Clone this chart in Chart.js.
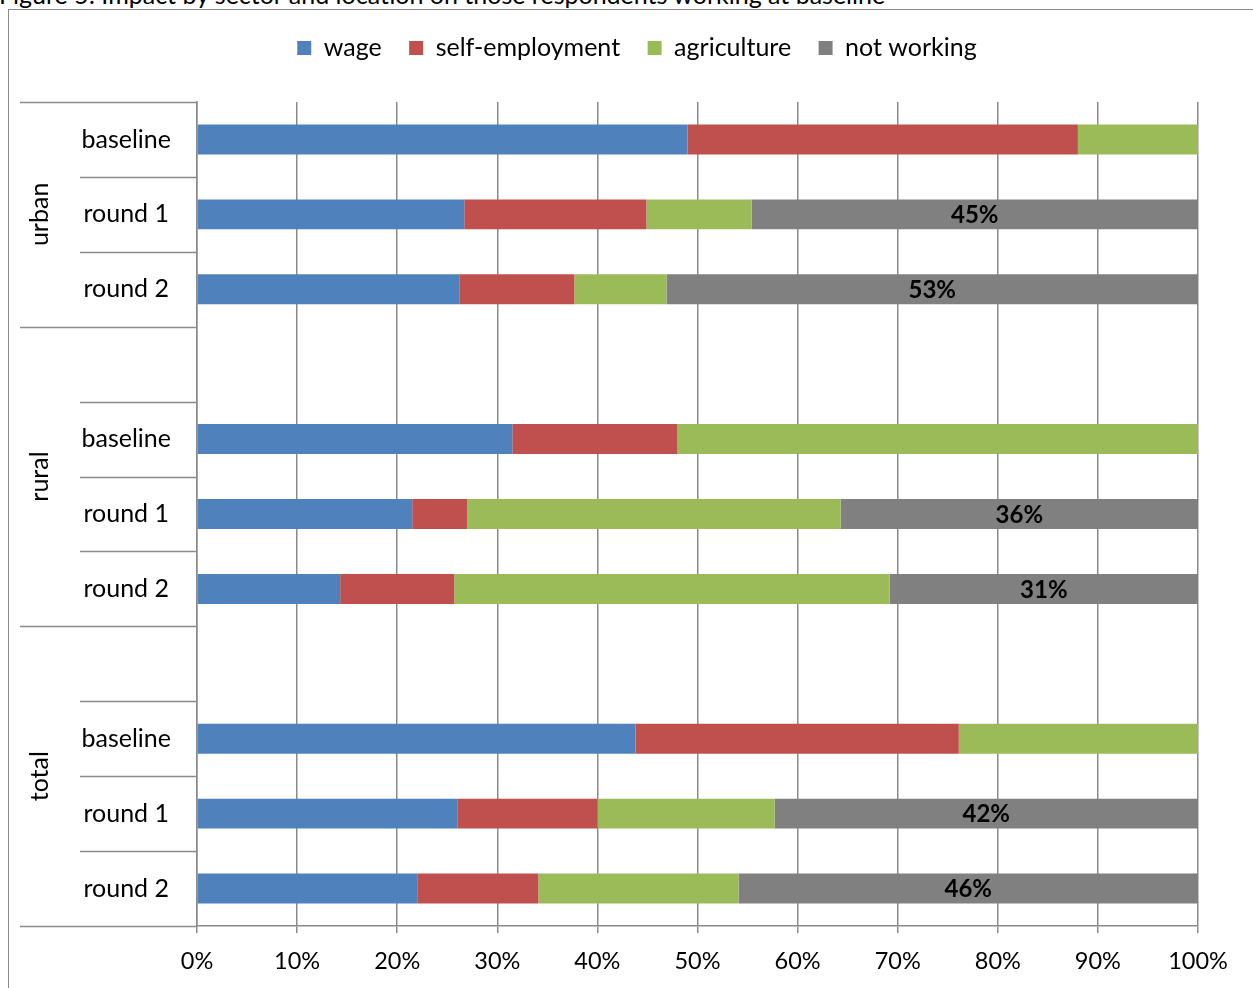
<!DOCTYPE html>
<html>
<head>
<meta charset="utf-8">
<script src="https://cdn.jsdelivr.net/npm/chart.js@4.4.0/dist/chart.umd.min.js"></script>
<style>
  body { margin: 0; background: #fff; overflow: hidden; }
  #caption { position: absolute; left: -1px; top: -18px; font-family: Lato, sans-serif; font-size: 25px; line-height: 25px; color: #000; white-space: nowrap; }
  #frame { position: absolute; left: 8px; top: 9px; width: 1300px; height: 1100px; border: 1px solid #8a8a8a; }
  #wrap { position: absolute; left: 0; top: 0; width: 1253px; height: 988px; }
</style>
</head>
<body>
<div id="caption">Figure 5: Impact by sector and location on those respondents working at baseline</div>
<div id="frame"></div>
<div id="wrap"><canvas id="sectorChart" width="1253" height="988"></canvas></div>
<script>
// rows: urban (3), rural (gap + 3), total (gap + 3)
const rowLabels = ['baseline', 'round 1', 'round 2', '', 'baseline', 'round 1', 'round 2', '', 'baseline', 'round 1', 'round 2'];
const groupNames = ['urban', 'rural', 'total'];
const groupSizes = [3, 4, 4];

// shares in percent
const wage = [49.0, 26.7, 26.2, null, 31.5, 21.5, 14.3, null, 43.8, 26.0, 22.0];
const selfEmployment = [39.0, 18.2, 11.5, null, 16.5, 5.5, 11.4, null, 32.3, 14.0, 12.1];
const agriculture = [12.0, 10.5, 9.2, null, 52.0, 37.3, 43.5, null, 23.9, 17.7, 20.0];
const notWorking = [0, 44.6, 53.1, null, 0, 35.7, 30.8, null, 0, 42.3, 45.9];

const xTicks = [0, 10, 20, 30, 40, 50, 60, 70, 80, 90, 100];

const FONT = 'Lato, "Noto Sans", sans-serif';
const GRID = '#8a8a8a';

// legend sits higher than Chart.js puts it, so push the plot down a bit
const legendSpace = {
  id: 'legendSpace',
  beforeInit(chart) {
    const origFit = chart.legend.fit;
    chart.legend.fit = function() {
      origFit.bind(chart.legend)();
      this.height += 31.5;
    };
  },
  afterLayout(chart) {
    chart.legend.left += 38;
    chart.legend.right += 38;
  }
};

// group labels and the divider lines in the category area
const groupAxis = {
  id: 'groupAxis',
  afterDraw(chart) {
    const ctx = chart.ctx;
    const y = chart.scales.y;
    const right = chart.chartArea.left;
    const step = y.getPixelForValue(1) - y.getPixelForValue(0);
    const edge = i => y.getPixelForValue(0) - step / 2 + i * step;

    let groupEdges = [0];
    groupSizes.forEach(s => groupEdges.push(groupEdges[groupEdges.length - 1] + s));

    ctx.save();
    ctx.strokeStyle = GRID;
    ctx.lineWidth = 1.5;
    for (let i = 0; i <= rowLabels.length; i++) {
      const yy = Math.round(edge(i)) + 0.5;
      const startX = groupEdges.includes(i) ? 20 : 80;
      ctx.beginPath();
      ctx.moveTo(startX, yy);
      ctx.lineTo(right, yy);
      ctx.stroke();
    }

    ctx.fillStyle = '#000';
    ctx.font = '25px ' + FONT;
    ctx.textAlign = 'center';
    ctx.textBaseline = 'middle';
    groupNames.forEach((name, g) => {
      const mid = (edge(groupEdges[g]) + edge(groupEdges[g + 1])) / 2;
      ctx.save();
      ctx.translate(40, mid);
      ctx.rotate(-Math.PI / 2);
      ctx.fillText(name, 0, 0);
      ctx.restore();
    });
    ctx.restore();
  }
};

// percent labels on the "not working" segments
const notWorkingLabels = {
  id: 'notWorkingLabels',
  afterDatasetsDraw(chart) {
    const ctx = chart.ctx;
    const meta = chart.getDatasetMeta(3);
    ctx.save();
    ctx.fillStyle = '#000';
    ctx.font = 'bold 24px ' + FONT;
    ctx.textAlign = 'center';
    ctx.textBaseline = 'middle';
    meta.data.forEach((bar, i) => {
      const v = notWorking[i];
      if (!v) return;
      ctx.fillText(Math.round(v) + '%', (bar.x + bar.base) / 2, bar.y + 1);
    });
    ctx.restore();
  }
};

function createSectorChart() {
  const ctx = document.getElementById('sectorChart').getContext('2d');

  new Chart(ctx, {
    type: 'bar',
    data: {
      labels: rowLabels,
      datasets: [
        { label: 'wage', data: wage, backgroundColor: '#4F81BD' },
        { label: 'self-employment', data: selfEmployment, backgroundColor: '#C0504D' },
        { label: 'agriculture', data: agriculture, backgroundColor: '#9BBB59' },
        { label: 'not working', data: notWorking, backgroundColor: '#808080' }
      ]
    },
    options: {
      indexAxis: 'y',
      responsive: false,
      animation: false,
      barPercentage: 0.4,
      categoryPercentage: 1.0,
      layout: { padding: { top: 8, right: 55, bottom: 0, left: 0 } },
      plugins: {
        tooltip: { enabled: false },
        legend: {
          position: 'top',
          labels: {
            boxWidth: 14,
            boxHeight: 14,
            padding: 27.5,
            color: '#000',
            font: { family: FONT, size: 25 }
          }
        }
      },
      scales: {
        x: {
          stacked: true,
          min: 0,
          max: 100,
          afterBuildTicks(scale) {
            scale.ticks = xTicks.map(v => ({ value: v }));
          },
          afterFit(scale) { scale.height = 62; },
          ticks: {
            padding: 14,
            color: '#000',
            font: { family: FONT, size: 23.5 },
            callback: v => v + '%'
          },
          grid: { color: GRID, lineWidth: 1.5, tickLength: 7 },
          border: { color: GRID, width: 1.5 }
        },
        y: {
          stacked: true,
          afterFit(scale) { scale.width = 197; },
          ticks: {
            crossAlign: 'center',
            padding: 26,
            color: '#000',
            font: { family: FONT, size: 25 }
          },
          grid: { display: false, drawTicks: false },
          border: { color: GRID, width: 1.5 }
        }
      }
    },
    plugins: [legendSpace, groupAxis, notWorkingLabels]
  });
}

createSectorChart();
</script>
</body>
</html>
